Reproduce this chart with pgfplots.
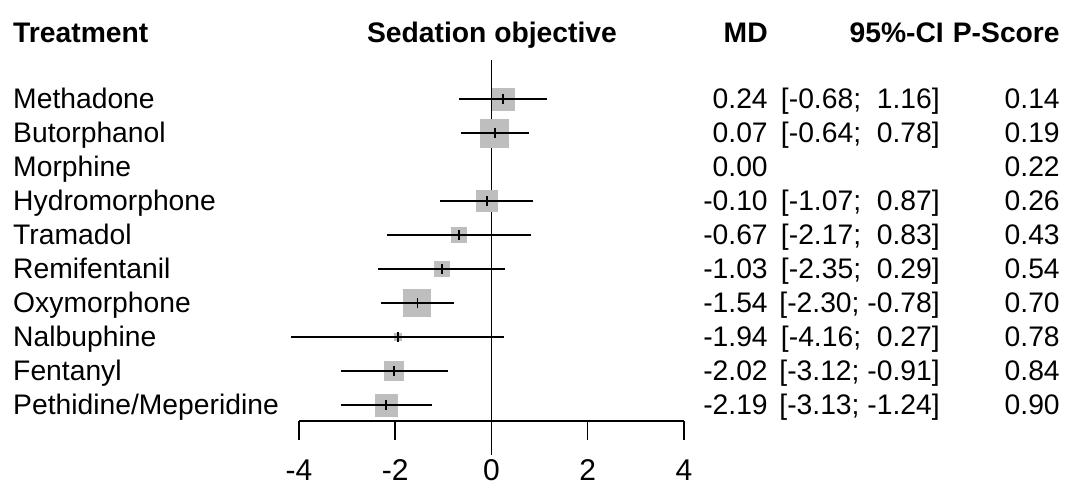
\documentclass[border=0pt]{standalone}
\usepackage{pgfplots}
\pgfplotsset{compat=1.18}
\usepackage{pgfplotstable}
\usepackage{fontspec}
\setmainfont{Liberation Sans}
\definecolor{sqgray}{RGB}{190,190,190}
\newcommand\ff{\fontsize{21.2pt}{25pt}\selectfont}
\newcommand\tf{\fontsize{22.5pt}{26pt}\selectfont}

\pgfplotstableread{
y md lo hi
-1 0.24 -0.68 1.16
-2 0.07 -0.64 0.78
-3 0.00 0.00 0.00
-4 -0.10 -1.07 0.87
-5 -0.67 -2.17 0.83
-6 -1.03 -2.35 0.29
-7 -1.54 -2.30 -0.78
-8 -1.94 -4.16 0.27
-9 -2.02 -3.12 -0.91
-10 -2.19 -3.13 -1.24
}\cidata

\pgfplotstableread{
y md side
-1 0.24 22
-2 0.07 28
-4 -0.10 21
-5 -0.67 15
-6 -1.03 15
-7 -1.54 27
-8 -1.94 7
-9 -2.02 19
-10 -2.19 22
}\sqdata

\tikzset{lbl/.style={inner sep=0pt, font=\ff}}
\newcommand\rowtext[5]{%
  \node[lbl,anchor=base west] at (axis cs:-9.948,#1) {#2};
  \node[lbl,anchor=base east] at (axis cs:5.748,#1) {#3};
  \node[lbl,anchor=base east] at (axis cs:9.324,#1) {#4};
  \node[lbl,anchor=base east] at (axis cs:11.819,#1) {#5};
}

\begin{document}
\begin{tikzpicture}
\begin{axis}[
  x=36.075pt, y=25.5pt,
  xmin=-4, xmax=4, ymin=-10.47, ymax=1.9,
  axis x line=bottom, axis y line=none,
  x axis line style={-, line width=1.2pt},
  xtick={-4,-2,0,2,4}, xticklabels={-4,-2,0,2,4},
  tick align=outside, major tick length=14.25pt,
  tick style={black, line width=1.2pt},
  xticklabel style={font=\tf, yshift=-11pt},
  clip=false, clip marker paths=true,
]
% zero reference line
\addplot[black, line width=1.2pt] coordinates {(0,0.147) (0,-11.47)};
% squares
\addplot[scatter, only marks, mark=square*,
  scatter/use mapped color={draw=sqgray, fill=sqgray},
  visualization depends on={\thisrow{side}*0.375 \as \msize},
  scatter/@pre marker code/.append style={/tikz/mark size=\msize},
  mark options={line width=0pt}]
  table[x=md, y=y] {\sqdata};
% CI lines and centre ticks
\addplot[black, only marks, mark=|, mark size=3.5pt, mark options={line width=1.3pt},
  error bars/.cd, x dir=both, x explicit, error mark=none,
  error bar style={black, line width=1.2pt}]
  table[x=md, y=y,
        x error plus expr=\thisrow{hi}-\thisrow{md},
        x error minus expr=\thisrow{md}-\thisrow{lo}] {\cidata};

% headers
\node[lbl,anchor=base west,font=\ff\bfseries] at (axis cs:-9.948,0.676) {Treatment};
\node[lbl,anchor=base,font=\ff\bfseries] at (axis cs:0.01,0.676) {Sedation objective};
\node[lbl,anchor=base east,font=\ff\bfseries] at (axis cs:5.748,0.676) {MD};
\node[lbl,anchor=base east,font=\ff\bfseries] at (axis cs:9.41,0.676) {95\%-CI};
\node[lbl,anchor=base east,font=\ff\bfseries] at (axis cs:11.819,0.676) {P-Score};

\rowtext{-1.279}{Methadone}{0.24}{[-0.68;\ \ 1.16]}{0.14}
\rowtext{-2.279}{Butorphanol}{0.07}{[-0.64;\ \ 0.78]}{0.19}
\rowtext{-3.279}{Morphine}{0.00}{}{0.22}
\rowtext{-4.279}{Hydromorphone}{-0.10}{[-1.07;\ \ 0.87]}{0.26}
\rowtext{-5.279}{Tramadol}{-0.67}{[-2.17;\ \ 0.83]}{0.43}
\rowtext{-6.279}{Remifentanil}{-1.03}{[-2.35;\ \ 0.29]}{0.54}
\rowtext{-7.279}{Oxymorphone}{-1.54}{[-2.30; -0.78]}{0.70}
\rowtext{-8.279}{Nalbuphine}{-1.94}{[-4.16;\ \ 0.27]}{0.78}
\rowtext{-9.279}{Fentanyl}{-2.02}{[-3.12; -0.91]}{0.84}
\rowtext{-10.279}{Pethidine/Meperidine}{-2.19}{[-3.13; -1.24]}{0.90}

\coordinate (bbtl) at (axis cs:-10.218,1.912);
\coordinate (bbbr) at (axis cs:11.965,-12.353);
\end{axis}
\pgfresetboundingbox
\path (bbtl) rectangle (bbbr);
\end{tikzpicture}
\end{document}
